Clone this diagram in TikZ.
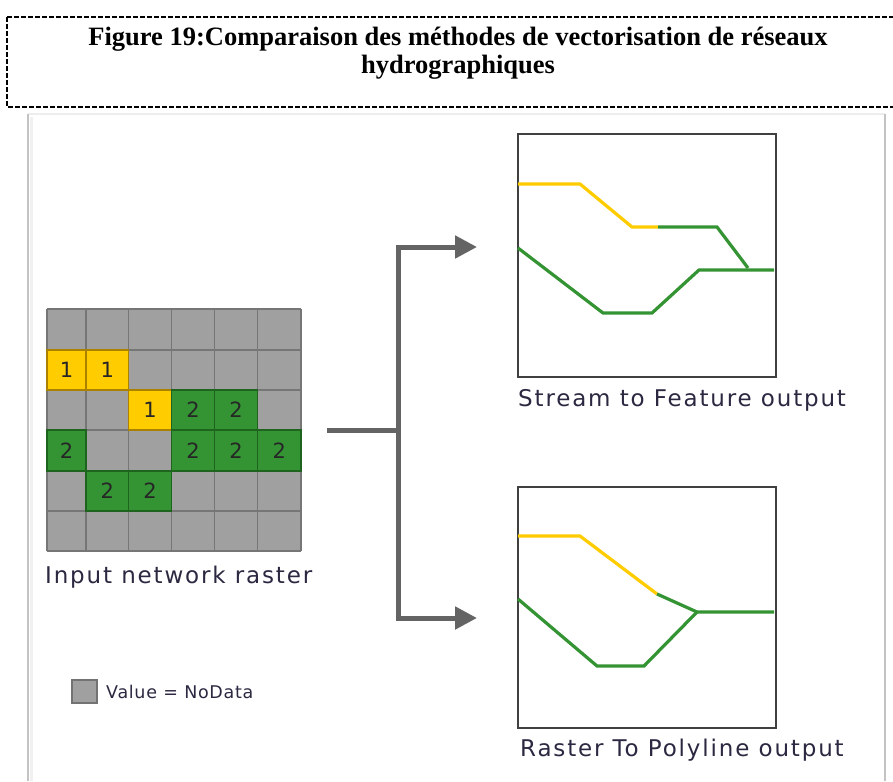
\documentclass[tikz,border=0pt]{standalone}
\usepackage{fontspec}
\setmainfont{Liberation Serif}
\newfontfamily\diagfont[LetterSpace=8]{DejaVu Sans}
\newfontfamily\legfont[LetterSpace=4]{DejaVu Sans}
\newfontfamily\numfont{DejaVu Sans}
\usetikzlibrary{arrows.meta}
\definecolor{cellgray}{RGB}{160,160,160}
\definecolor{gridline}{RGB}{118,118,118}
\definecolor{riveryellow}{RGB}{255,204,0}
\definecolor{yellowedge}{RGB}{170,130,0}
\definecolor{rivergreen}{RGB}{52,148,52}
\definecolor{greenedge}{RGB}{30,100,30}
\definecolor{arrowgray}{RGB}{100,100,100}
\definecolor{txtcol}{RGB}{45,40,65}
\definecolor{framegray}{RGB}{195,195,195}
\tikzset{
  cellnum/.style={font=\numfont\fontsize{21}{21}\selectfont, text=black!85},
  outbox/.style={draw=black!75, line width=1.6pt, fill=white},
  lbl/.style={font=\diagfont\fontsize{23}{23}\selectfont, text=txtcol, anchor=west, inner sep=0pt},
  yline/.style={draw=riveryellow, line width=3.2pt},
  gline/.style={draw=rivergreen, line width=3.2pt},
  flow/.style={draw=arrowgray, line width=5pt},
  flowtip/.style={flow, -{Triangle[length=22pt,width=22pt]}},
}
\begin{document}
\begin{tikzpicture}[x=1pt,y=-1pt]
\useasboundingbox (0,0) rectangle (893,781);
\fill[white] (0,0) rectangle (893,781);
% caption box
\draw[line width=1.5pt, dash pattern=on 5pt off 2pt] (7,17) -- (7,107) -- (893,107);
\draw[line width=1.5pt, dash pattern=on 5pt off 2pt] (7,17) -- (893,17);
\node[font=\bfseries\fontsize{26.5}{28}\selectfont, align=center] (title) at (458,53)
  {Figure 19:Comparaison des méthodes de vectorisation de réseaux\\hydrographiques};
% frame
\draw[black!7, line width=1.5pt] (28,114) -- (885,114);
\draw[framegray, line width=2pt] (28,781) -- (28,114);
\draw[framegray, line width=2pt] (885,114) -- (885,781);
\draw[black!6, line width=3pt] (31,781) -- (31,117);
% grid
\def\colx{{47,86,128.5,171.5,214.5,257.5,301}}
\def\rowy{{309,350,390,430,471,511,551}}
\fill[cellgray] (47,309) rectangle (301,551);
\foreach \i in {0,...,6}{
  \pgfmathsetmacro\xx{\colx[\i]}
  \pgfmathsetmacro\yy{\rowy[\i]}
  \draw[gridline, line width=1.2pt] (\xx,309) -- (\xx,551);
  \draw[gridline, line width=1.2pt] (47,\yy) -- (301,\yy);
}
\foreach \r/\c/\f/\e/\n in {1/0/riveryellow/yellowedge/1, 1/1/riveryellow/yellowedge/1,
  2/2/riveryellow/yellowedge/1, 2/3/rivergreen/greenedge/2, 2/4/rivergreen/greenedge/2,
  3/0/rivergreen/greenedge/2, 3/3/rivergreen/greenedge/2, 3/4/rivergreen/greenedge/2,
  3/5/rivergreen/greenedge/2, 4/1/rivergreen/greenedge/2, 4/2/rivergreen/greenedge/2}{
  \pgfmathsetmacro\xa{\colx[\c]}
  \pgfmathsetmacro\ya{\rowy[\r]}
  \pgfmathtruncatemacro\cn{\c+1}
  \pgfmathtruncatemacro\rn{\r+1}
  \pgfmathsetmacro\xb{\colx[\cn]}
  \pgfmathsetmacro\yb{\rowy[\rn]}
  \draw[fill=\f, draw=\e, line width=1.2pt] (\xa,\ya) rectangle (\xb,\yb);
  \node[cellnum] (cell-\r-\c) at ({(\xa+\xb)/2},{(\ya+\yb)/2}) {\n};
}
\node[lbl] (inlbl) at (45,577) {Input network raster};
% legend
\draw[fill=cellgray, draw=black!55, line width=1.5pt] (72,680) rectangle (97,703);
\node[font=\legfont\fontsize{17.5}{17.5}\selectfont, text=txtcol, anchor=west, inner sep=0pt] (leg) at (106,692) {Value = NoData};
% output boxes
\node[outbox, minimum width=258pt, minimum height=243pt, anchor=north west, inner sep=0pt] (topbox) at (517,133) {};
\node[outbox, minimum width=258pt, minimum height=241pt, anchor=north west, inner sep=0pt] (botbox) at (517,486) {};
% top box streams
\draw[yline] (518,184) -- (580,184) -- (632,227) -- (658,227);
\draw[gline] (658,227) -- (717,227) -- (748,268);
\draw[gline] (518,248) -- (603,313) -- (652,313) -- (699,270) -- (774,270);
% bottom box streams
\draw[yline] (518,536) -- (580,536) -- (657,594);
\draw[gline] (657,594) -- (697,612) -- (774,612);
\draw[gline] (518,599) -- (597,666) -- (644,666) -- (697,612);
\node[lbl] (toplbl) at (518,400) {Stream to Feature output};
\node[lbl] (botlbl) at (520,750) {Raster To Polyline output};
% arrows
\coordinate (src) at (327,430);
\coordinate (split) at (398,430);
\coordinate (tipA) at (477,247);
\coordinate (tipB) at (477,618);
\draw[flow] (src) -- (split);
\draw[flowtip] (split) |- (tipA);
\draw[flowtip] (split) |- (tipB);
\end{tikzpicture}
\end{document}
